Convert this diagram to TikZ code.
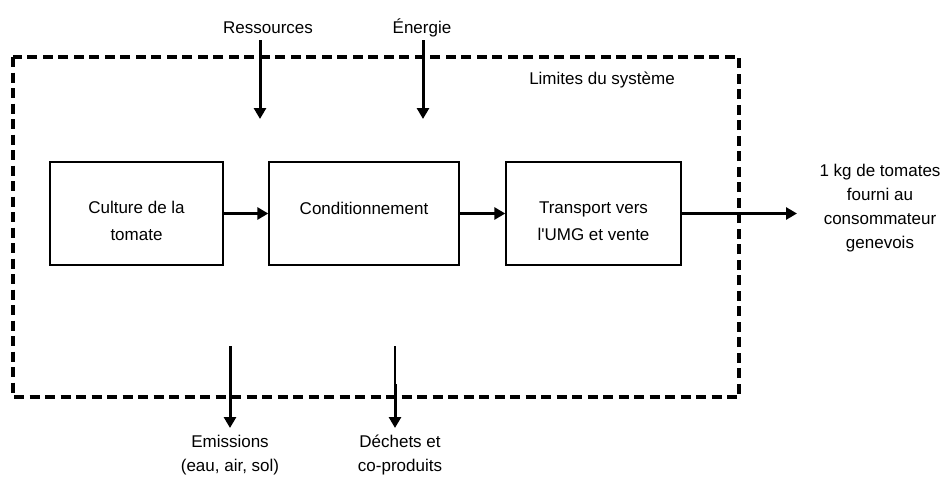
\documentclass[tikz,border=0pt]{standalone}
\usepackage{fontspec}
\setmainfont{Liberation Sans}
\usetikzlibrary{arrows.meta}
\tikzset{
  lbl/.style={font=\fontsize{17}{24}\selectfont, align=center, inner sep=0pt},
  boxtxt/.style={font=\fontsize{17}{27}\selectfont, align=center, inner sep=0pt},
  procbox/.style={draw, line width=1.4pt, minimum height=103pt, inner sep=0pt},
  flow/.style={line width=3pt, -{Triangle[length=11pt,width=12pt]}},
  thinflow/.style={line width=1.4pt},
  boundary/.style={draw, line width=4pt, dash pattern=on 10pt off 5.5pt}
}
\begin{document}
\begin{tikzpicture}[x=1pt,y=-1pt]
\useasboundingbox (0,0) rectangle (945,477);
% system boundary
\draw[boundary] (13,57) rectangle (739,397);
\node[lbl] (lim) at (602,80) {Limites du système};
% process boxes
\node[procbox, minimum width=173pt] (b1) at (136.5,213.5) {};
\node[procbox, minimum width=190pt] (b2) at (364,213.5) {};
\node[procbox, minimum width=175pt] (b3) at (593.5,213.5) {};
\node[boxtxt] (t1) at ([yshift=-7pt]b1.center) {Culture de la\\tomate};
\node[boxtxt] (t2) at ([yshift=5pt]b2.center) {Conditionnement};
\node[boxtxt] (t3) at ([yshift=-8pt]b3.center) {Transport vers\\l\textquotesingle UMG et vente};
\draw[flow] (b1.east) -- (b2.west);
\draw[flow] (b2.east) -- (b3.west);
\coordinate (outend) at (797,213.5);
\draw[flow] (b3.east) -- (outend);
\node[lbl] (out) at (880,208) {1 kg de tomates\\fourni au\\consommateur\\genevois};
% inputs
\node[lbl] (res) at (268,28) {Ressources};
\node[lbl] (ene) at (422,28) {Énergie};
\coordinate (resS) at (260,40);
\coordinate (resE) at (260,119);
\coordinate (eneS) at (423,40);
\coordinate (eneE) at (423,119);
\draw[flow] (resS) -- (resE);
\draw[flow] (eneS) -- (eneE);
% outputs
\coordinate (emiS) at (230,346);
\coordinate (emiE) at (230,428);
\coordinate (decS) at (395,346);
\coordinate (decM) at (395,384);
\coordinate (decE) at (395,428);
\draw[flow] (emiS) -- (emiE);
\draw[thinflow] (decS) -- (decM);
\draw[flow] (decM) -- (decE);
\node[lbl] (emi) at (230,455) {Emissions\\(eau, air, sol)};
\node[lbl] (dec) at (400,455) {Déchets et\\co-produits};
\end{tikzpicture}
\end{document}
